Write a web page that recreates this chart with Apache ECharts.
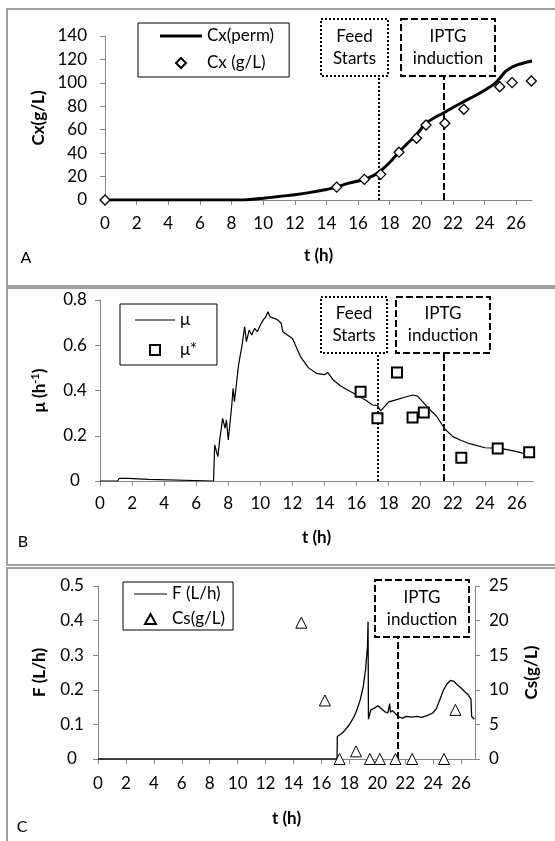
<!DOCTYPE html>
<html>
<head>
<meta charset="utf-8">
<script src="https://cdn.jsdelivr.net/npm/echarts@6/dist/echarts.min.js"></script>
<style>
  html, body { margin: 0; padding: 0; background: #fff; }
  #main { width: 555px; height: 841px; }
</style>
</head>
<body>
<div id="main"></div>
<script>
// shared time axis
const tTicks = [0, 2, 4, 6, 8, 10, 12, 14, 16, 18, 20, 22, 24, 26];
const feedT = 17.3;   // feed starts (h)
const iptgT = 21.45;  // IPTG induction (h)

// A: biomass
const cxPerm = [[0, 0], [8.8, 0], [9, 0.2], [10, 1.5], [11, 3], [12, 4.5], [13, 6.5], [14, 9], [14.65, 11],
  [15.3, 14], [16.4, 17.6], [17, 21], [17.43, 25], [18, 32], [18.59, 41], [19.1, 48], [19.64, 55],
  [20.27, 65], [20.8, 70], [21.43, 74.5], [22, 79], [22.69, 84], [23.4, 89], [24.16, 95], [24.6, 99],
  [24.96, 104], [25.35, 110], [25.74, 113.5], [26.1, 115.5], [26.47, 117], [27, 118.7]];
const cxMeas = [[0, 0], [14.65, 11], [16.4, 17.6], [17.43, 21.9], [18.59, 40.8], [19.7, 52.7], [20.3, 64],
  [21.49, 65.5], [22.69, 77.4], [24.96, 96.7], [25.74, 100.2], [26.96, 101.6]];

// B: specific growth rate
const mu = [[0, 0], [1.1, 0], [1.2, 0.012], [1.8, 0.012], [1.9, 0.007], [3.0, 0.007], [3.05, 0], [7.08, 0],
  [7.15, 0.159], [7.35, 0.108], [7.45, 0.174], [7.65, 0.277], [7.8, 0.233], [7.88, 0.27], [8.0, 0.181],
  [8.2, 0.321], [8.3, 0.41], [8.38, 0.351], [8.5, 0.424], [8.64, 0.513], [8.75, 0.557], [8.86, 0.601],
  [9.02, 0.682], [9.13, 0.616], [9.3, 0.667], [9.46, 0.645], [9.64, 0.675], [9.81, 0.66], [10.0, 0.69],
  [10.18, 0.712], [10.34, 0.726], [10.47, 0.748], [10.6, 0.726], [10.85, 0.719], [11.07, 0.712],
  [11.3, 0.697], [11.4, 0.66], [12, 0.63], [12.5, 0.55], [13, 0.5], [13.5, 0.476], [14, 0.47],
  [14.2, 0.48], [14.5, 0.45], [15, 0.42], [15.5, 0.4], [16, 0.38], [16.5, 0.36], [17, 0.336],
  [17.3, 0.333], [17.5, 0.31], [17.8, 0.333], [18, 0.35], [18.5, 0.36], [19, 0.37], [19.5, 0.38],
  [19.8, 0.375], [20, 0.36], [20.5, 0.32], [21, 0.285], [21.5, 0.23], [22, 0.196], [22.5, 0.18],
  [23, 0.166], [24, 0.147], [25, 0.144], [26, 0.13], [26.9, 0.112]];
const muStar = [[16.25, 0.395], [17.3, 0.277], [18.52, 0.48], [19.49, 0.281], [20.19, 0.303],
  [22.53, 0.103], [24.8, 0.144], [26.76, 0.127]];

// C: feed rate and substrate
const feed = [[0, 0], [17.12, 0], [17.14, 0.065], [17.5, 0.075], [18.0, 0.099], [18.28, 0.118],
  [18.5, 0.1375], [18.78, 0.171], [19.0, 0.21], [19.16, 0.258], [19.3, 0.325], [19.34, 0.397],
  [19.37, 0.115], [19.54, 0.142], [19.8, 0.147], [20.05, 0.154], [20.3, 0.145], [20.56, 0.136],
  [20.76, 0.133], [20.89, 0.16], [20.94, 0.135], [21.1, 0.14], [21.3, 0.131], [21.57, 0.121],
  [21.82, 0.118], [22.08, 0.123], [22.46, 0.121], [22.84, 0.123], [23.2, 0.12], [23.6, 0.126],
  [23.97, 0.133], [24.23, 0.145], [24.48, 0.171], [24.73, 0.198], [24.99, 0.217], [25.24, 0.227],
  [25.49, 0.224], [25.75, 0.214], [26.0, 0.205], [26.25, 0.195], [26.5, 0.186], [26.71, 0.173],
  [26.76, 0.123], [26.96, 0.115]];
const cs = [[14.56, 19.7], [16.25, 8.46], [17.3, 0], [18.48, 1.1], [19.47, 0], [20.18, 0], [21.3, 0],
  [22.5, 0], [24.78, 0], [25.6, 7.1]];

const FONT = 'Lato';
const TICK_SIZE = 17;
const AXIS_GRAY = '#868686';

// legend icons drawn inside a w x 10 box so nothing gets stretched
function lineIcon(w, t) {
  const a = 5 - t / 2, b = 5 + t / 2;
  return 'path://M0,0 M' + w + ',10 M0,' + a + 'L' + w + ',' + a + 'L' + w + ',' + b + 'L0,' + b + 'Z';
}
function diamondIcon(w) {
  const c = w / 2;
  return 'path://M0,0 M' + w + ',10 M' + c + ',0L' + (c + 5) + ',5L' + c + ',10L' + (c - 5) + ',5Z';
}
function squareIcon(w) {
  const c = w / 2;
  return 'path://M0,0 M' + w + ',10 M' + (c - 5) + ',0L' + (c + 5) + ',0L' + (c + 5) + ',10L' + (c - 5) + ',10Z';
}
function triangleIcon(w) {
  const c = w / 2;
  return 'path://M0,0 M' + w + ',10 M' + c + ',0L' + (c + 5.5) + ',10L' + (c - 5.5) + ',10Z';
}

function tickLabel(extra) {
  return Object.assign({ fontFamily: FONT, fontSize: TICK_SIZE, color: '#000' }, extra);
}

function tAxis(gridIndex, labelMargin, nameGap) {
  return {
    type: 'value', gridIndex: gridIndex, min: 0, max: 27, interval: 2,
    name: 't (h)', nameLocation: 'middle', nameGap: nameGap,
    nameTextStyle: { fontFamily: FONT, fontWeight: 'bold', fontSize: 17, color: '#000' },
    axisLine: { show: true, lineStyle: { color: AXIS_GRAY, width: 1 } },
    axisTick: { show: true, length: 5, customValues: tTicks, lineStyle: { color: AXIS_GRAY } },
    axisLabel: tickLabel({ customValues: tTicks, margin: labelMargin }),
    splitLine: { show: false }
  };
}

function vAxis(gridIndex, min, max, interval, extra) {
  return Object.assign({
    type: 'value', gridIndex: gridIndex, min: min, max: max, interval: interval,
    nameLocation: 'middle', nameRotate: 90,
    nameTextStyle: { fontFamily: FONT, fontWeight: 'bold', fontSize: 17, color: '#000' },
    axisLine: { show: true, lineStyle: { color: AXIS_GRAY, width: 1 } },
    axisTick: { show: true, length: 5, lineStyle: { color: AXIS_GRAY } },
    axisLabel: tickLabel({}),
    splitLine: { show: false }
  }, extra);
}

function eventLine(t, top, type) {
  return {
    silent: true, symbol: ['none', 'none'], label: { show: false },
    lineStyle: { color: '#000', width: 2, type: type },
    data: [[{ coord: [t, 0] }, { coord: [t, top] }]]
  };
}

function noteBox(x, y, w, h, text, dash) {
  return {
    type: 'group', z: 50,
    children: [
      { type: 'rect', shape: { x: x, y: y, width: w, height: h },
        style: { fill: '#fff', stroke: '#000', lineWidth: 2, lineDash: dash } },
      { type: 'text', x: x + w / 2, y: y + h / 2,
        style: { text: text, fontFamily: FONT, fontSize: 17, fill: '#000', lineHeight: 22,
                 align: 'center', verticalAlign: 'middle' } }
    ]
  };
}

function panelFrame(y, h) {
  return { type: 'rect', shape: { x: 7, y: y, width: 560, height: h },
           style: { fill: 'none', stroke: '#a0a0a0', lineWidth: 2 } };
}

function panelLetter(x, y, s) {
  return { type: 'text', x: x, y: y,
           style: { text: s, fontFamily: FONT, fontSize: 16, fill: '#000', align: 'center', verticalAlign: 'middle' } };
}

function legendBox(left, top, items, padding, itemWidth, itemGap) {
  return {
    show: true, orient: 'vertical', left: left, top: top, data: items,
    padding: padding, itemWidth: itemWidth, itemHeight: 10, itemGap: itemGap,
    symbolKeepAspect: false,
    borderColor: '#000', borderWidth: 1, backgroundColor: '#fff', selectedMode: false,
    textStyle: { fontFamily: FONT, fontSize: 17, color: '#000', lineHeight: 18 }
  };
}

const markerStyle = function (bw) {
  return { color: '#fff', borderColor: '#000', borderWidth: bw, opacity: 1 };
};

const chart = echarts.init(document.getElementById('main'), null, { renderer: 'canvas' });

const option = {
  animation: false,
  backgroundColor: '#fff',
  grid: [
    { left: 105, top: 36, width: 427, height: 164 },
    { left: 100, top: 300, width: 433, height: 181 },
    { left: 98, top: 586, width: 377, height: 173 }
  ],
  xAxis: [tAxis(0, 15, 47), tAxis(1, 14, 48), tAxis(2, 16, 51)],
  yAxis: [
    vAxis(0, 0, 140, 20, { name: 'Cx(g/L)', nameGap: 56, axisLabel: tickLabel({ margin: 18 }) }),
    vAxis(1, 0, 0.8, 0.2, {
      name: '{b|μ (h}{s|-1}{b|)}', nameGap: 50,
      nameTextStyle: { rich: {
        b: { fontFamily: FONT, fontWeight: 'bold', fontSize: 17, color: '#000', lineHeight: 20 },
        s: { fontFamily: FONT, fontWeight: 'bold', fontSize: 11, color: '#000', verticalAlign: 'top', lineHeight: 20 }
      } },
      axisLabel: tickLabel({ margin: 25, align: 'center' })
    }),
    vAxis(2, 0, 0.5, 0.1, { name: 'F (L/h)', nameGap: 50, axisLabel: tickLabel({ margin: 26, align: 'center' }) }),
    vAxis(2, 0, 25, 5, { position: 'right', name: 'Cs(g/L)', nameGap: 48, axisLabel: tickLabel({ margin: 14 }) })
  ],
  legend: [
    legendBox(138, 23, [{ name: 'Cx(perm)', icon: lineIcon(42, 3) }, { name: 'Cx (g/L)', icon: diamondIcon(42) }], [4, 15, 5, 21], 42, 9),
    legendBox(120, 304, [{ name: 'μ', icon: lineIcon(40, 1) }, { name: 'μ*', icon: squareIcon(40) }], [7, 20, 6, 14], 40, 12),
    legendBox(123, 582, [{ name: 'F (L/h)', icon: lineIcon(33, 1) }, { name: 'Cs(g/L)', icon: triangleIcon(33) }], [3, 8, 2, 10], 33, 7)
  ],
  series: [
    { name: 'Cx(perm)', type: 'line', xAxisIndex: 0, yAxisIndex: 0, data: cxPerm, smooth: 0.4,
      symbol: 'none', lineStyle: { color: '#000', width: 3 }, itemStyle: { color: '#000' },
      markLine: eventLine(feedT, 106, 'dotted') },
    { name: 'Cx-iptg', type: 'line', xAxisIndex: 0, yAxisIndex: 0, data: [],
      markLine: eventLine(iptgT, 106, [7, 3]) },
    { name: 'Cx (g/L)', type: 'scatter', xAxisIndex: 0, yAxisIndex: 0, data: cxMeas, symbol: 'diamond',
      symbolSize: 10, z: 5, itemStyle: markerStyle(1.3) },

    { name: 'μ', type: 'line', xAxisIndex: 1, yAxisIndex: 1, data: mu, symbol: 'none',
      lineStyle: { color: '#000', width: 1.2 }, itemStyle: { color: '#000' },
      markLine: eventLine(feedT, 0.566, 'dotted') },
    { name: 'mu-iptg', type: 'line', xAxisIndex: 1, yAxisIndex: 1, data: [],
      markLine: eventLine(iptgT, 0.566, [7, 3]) },
    { name: 'μ*', type: 'scatter', xAxisIndex: 1, yAxisIndex: 1, data: muStar, symbol: 'rect',
      symbolSize: 10, z: 5, itemStyle: markerStyle(2) },

    { name: 'F (L/h)', type: 'line', xAxisIndex: 2, yAxisIndex: 2, data: feed, symbol: 'none',
      lineStyle: { color: '#000', width: 1.3 }, itemStyle: { color: '#000' },
      markLine: eventLine(iptgT, 0.353, [7, 3]) },
    { name: 'Cs(g/L)', type: 'scatter', xAxisIndex: 2, yAxisIndex: 3, data: cs, symbol: 'triangle',
      symbolSize: 11, z: 5, itemStyle: markerStyle(1) }
  ],
  graphic: [
    panelFrame(9, 277), panelFrame(288, 277), panelFrame(568, 290),
    panelLetter(26, 258, 'A'), panelLetter(23, 542, 'B'), panelLetter(22, 827, 'C'),
    noteBox(321, 19, 67, 57, 'Feed\nStarts', [2, 2]),
    noteBox(401, 19, 94, 57, 'IPTG\ninduction', [7, 3]),
    noteBox(321, 297, 66, 56, 'Feed\nStarts', [2, 2]),
    noteBox(396, 297, 94, 56, 'IPTG\ninduction', [7, 3]),
    noteBox(375, 580, 94, 57, 'IPTG\ninduction', [7, 3])
  ]
};

chart.setOption(option);
</script>
</body>
</html>
